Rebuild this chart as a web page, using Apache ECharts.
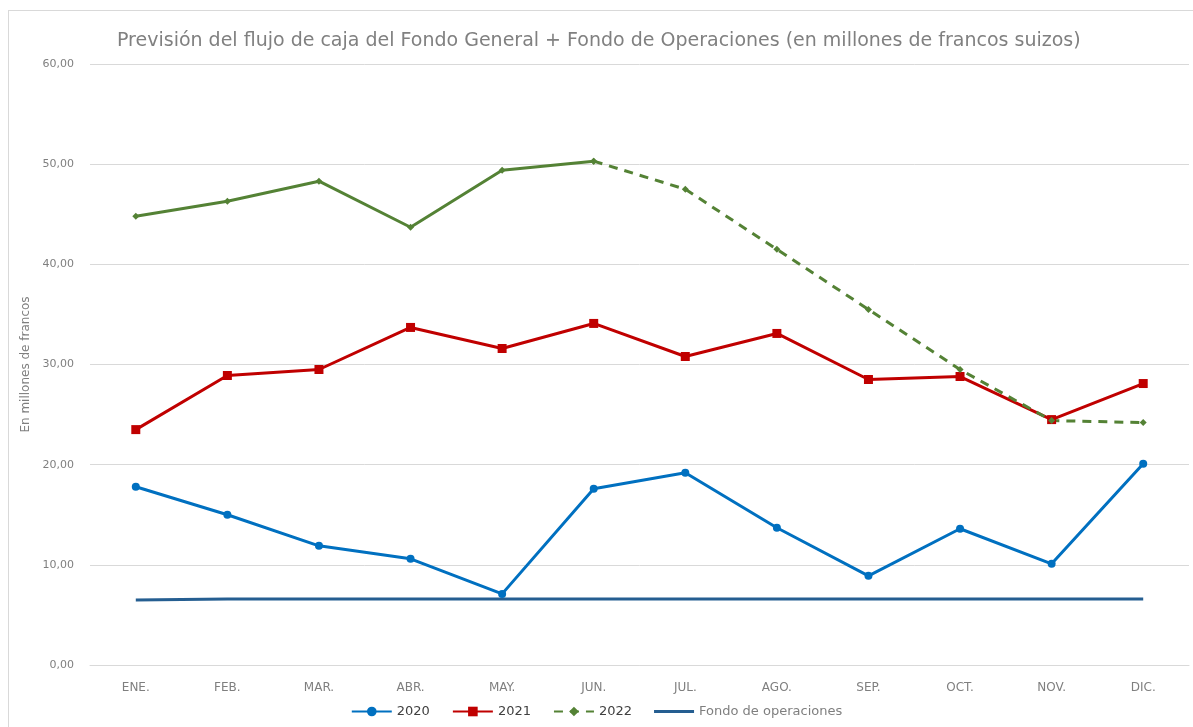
<!DOCTYPE html>
<html>
<head>
<meta charset="utf-8">
<script src="https://cdn.jsdelivr.net/npm/echarts@6/dist/echarts.min.js"></script>
<style>
  html, body { margin: 0; padding: 0; background: #fff; }
  #frame { position: absolute; left: 8px; top: 10px; width: 1200px; height: 730px; border: 1px solid #d9d9d9; }
  #chart { position: absolute; left: 0; top: 0; width: 1193px; height: 727px; }
</style>
</head>
<body>
<div id="frame"></div>
<div id="chart"></div>
<script>
var months = ['ENE.', 'FEB.', 'MAR.', 'ABR.', 'MAY.', 'JUN.', 'JUL.', 'AGO.', 'SEP.', 'OCT.', 'NOV.', 'DIC.'];
var y2020 = [17.8, 15.0, 11.9, 10.6, 7.1, 17.6, 19.2, 13.7, 8.9, 13.6, 10.1, 20.1];
var y2021 = [23.5, 28.9, 29.5, 33.7, 31.6, 34.1, 30.8, 33.1, 28.5, 28.8, 24.5, 28.1];
// 2022: real values up to JUN, forecast (dashed) from JUN on
var y2022real = [44.8, 46.3, 48.3, 43.7, 49.4, 50.3, null, null, null, null, null, null];
var y2022prev = [null, null, null, null, null, 50.3, 47.5, 41.5, 35.5, 29.5, 24.4, 24.2];
var fondo = [6.5, 6.6, 6.6, 6.6, 6.6, 6.6, 6.6, 6.6, 6.6, 6.6, 6.6, 6.6];

var grey = '#7f7f7f';
var font = 'DejaVu Sans';

var chart = echarts.init(document.getElementById('chart'));
chart.setOption({
  animation: false,
  textStyle: { fontFamily: font },
  title: {
    text: 'Previsión del flujo de caja del Fondo General + Fondo de Operaciones (en millones de francos suizos)',
    left: 112, top: 27,
    textStyle: { fontFamily: font, fontSize: 19, fontWeight: 'normal', color: '#808080' }
  },
  legend: {
    bottom: 4, left: 'center',
    itemWidth: 40, itemHeight: 12, itemGap: 22,
    textStyle: { fontFamily: font, fontSize: 13, color: '#404040' },
    data: [
      '2020', '2021', '2022',
      { name: 'Fondo de operaciones', icon: 'path://M0,0 L40,0 L40,3 L0,3 Z', textStyle: { color: grey } }
    ]
  },
  grid: { left: 90, right: 4, top: 64, bottom: 62 },
  xAxis: {
    type: 'category',
    data: months,
    boundaryGap: true,
    axisLine: { lineStyle: { color: '#d9d9d9' } },
    axisTick: { show: false },
    axisLabel: { color: grey, fontSize: 12, fontFamily: font, margin: 17 }
  },
  yAxis: {
    type: 'value',
    min: 0, max: 60, interval: 10,
    name: 'En millones de francos',
    nameLocation: 'middle',
    nameGap: 45,
    nameTextStyle: { color: grey, fontSize: 12, fontFamily: font },
    axisLine: { show: false },
    axisTick: { show: false },
    splitLine: { lineStyle: { color: '#d9d9d9' } },
    axisLabel: {
      color: grey, fontSize: 11, fontFamily: font, margin: 16,
      formatter: function (v) { return v.toFixed(2).replace('.', ','); }
    }
  },
  series: [
    {
      name: '2020', type: 'line', data: y2020,
      symbol: 'circle', symbolSize: 8,
      itemStyle: { color: '#0070c0' },
      lineStyle: { color: '#0070c0', width: 3 }
    },
    {
      name: '2021', type: 'line', data: y2021,
      symbol: 'rect', symbolSize: 9,
      itemStyle: { color: '#c00000' },
      lineStyle: { color: '#c00000', width: 3 }
    },
    {
      name: '2022', type: 'line', data: y2022prev,
      symbol: 'diamond', symbolSize: 7,
      itemStyle: { color: '#548235' },
      lineStyle: { color: '#548235', width: 3, type: [9, 7] }
    },
    {
      name: '2022', type: 'line', data: y2022real,
      symbol: 'diamond', symbolSize: 7,
      itemStyle: { color: '#548235' },
      lineStyle: { color: '#548235', width: 3 }
    },
    {
      name: 'Fondo de operaciones', type: 'line', data: fondo,
      symbol: 'none',
      itemStyle: { color: '#255e91' },
      lineStyle: { color: '#255e91', width: 3 }
    }
  ]
});
</script>
</body>
</html>
